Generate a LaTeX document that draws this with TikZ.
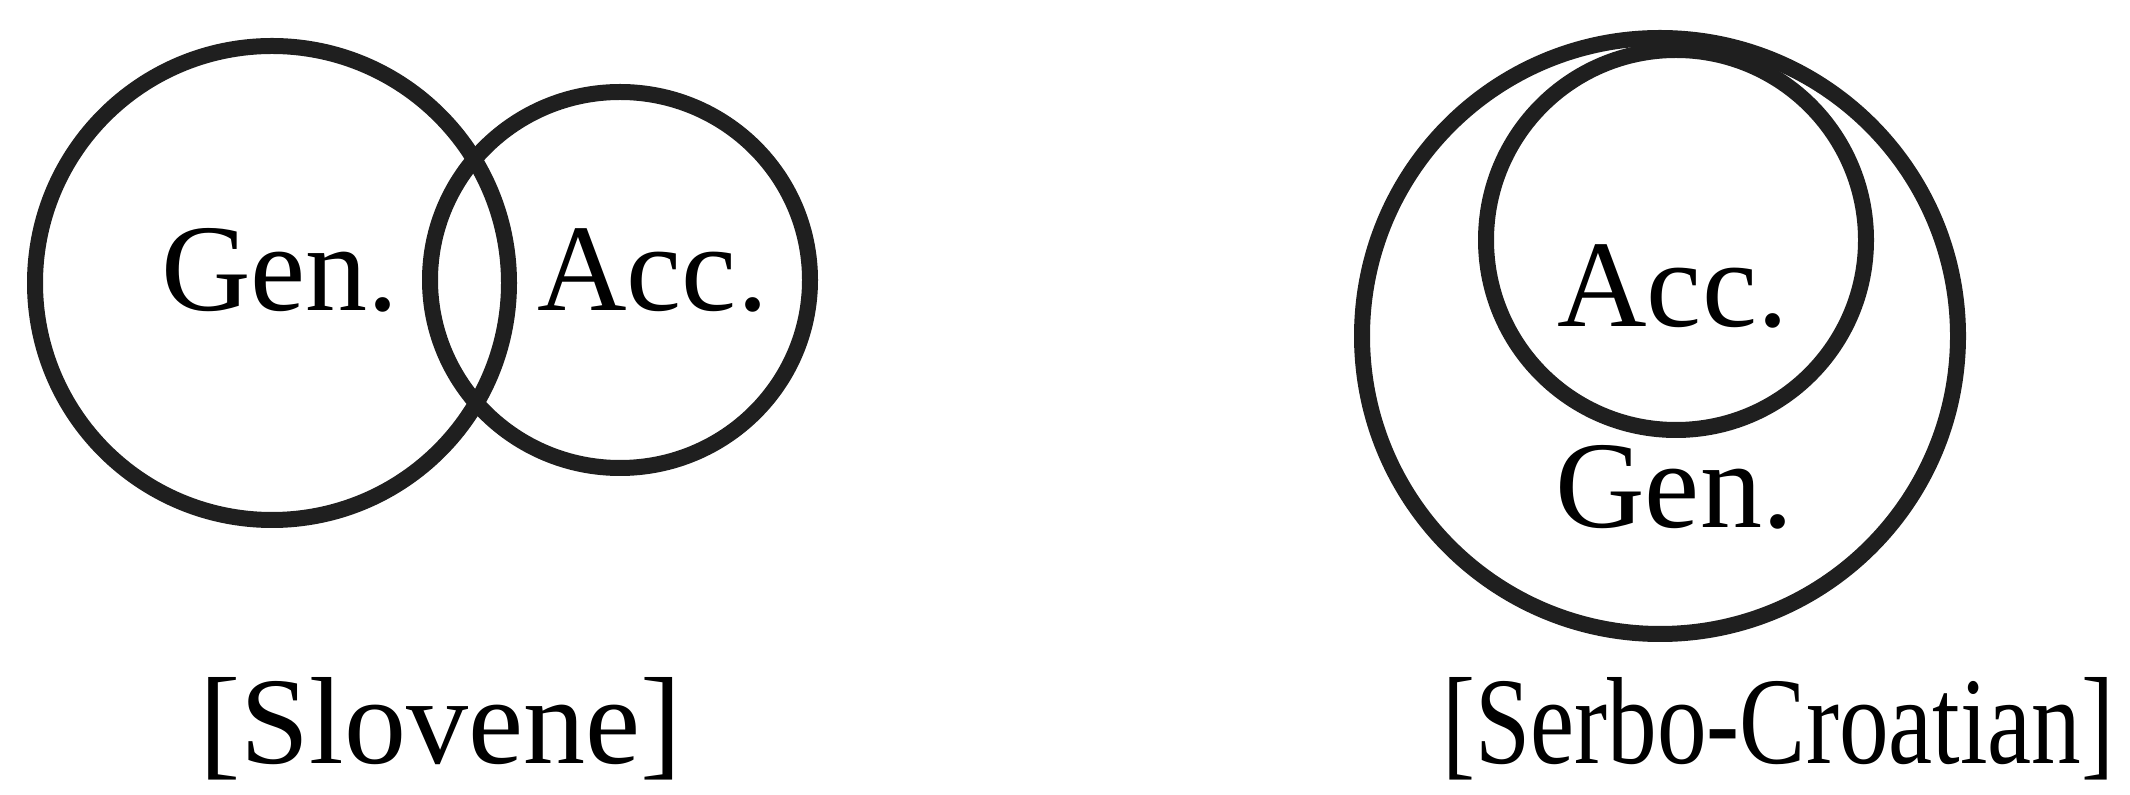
\documentclass[tikz,border=0pt]{standalone}
\usepackage{fontspec}
\setmainfont{Liberation Serif}
\begin{document}
\begin{tikzpicture}[x=0.5pt,y=-0.5pt,
  ring/.style={draw=black!88,line width=8pt},
  lbl/.style={anchor=base west,inner sep=0pt,font=\fontsize{62}{74}\selectfont}]
\useasboundingbox (0,0) rectangle (2130,795);
% left diagram
\draw[ring] (272,283) circle [radius=237];
\draw[ring] (620,280) ellipse [x radius=190,y radius=188];
\node[lbl] (genL) at (161,311) {Gen.};
\node[lbl] (accL) at (537,311) {Acc.};
\node[lbl] (slov) at (199,763) {[Slovene]};
% right diagram
\draw[ring] (1660,336) circle [radius=298];
\draw[ring] (1676,240) circle [radius=190];
\node[lbl] (accR) at (1557,327) {Acc.};
\node[lbl] (genR) at (1555,528) {Gen.};
\node[lbl] (serb) at (1442,763) {\scalebox{0.8}[1]{[Serbo-Croatian]}};
\end{tikzpicture}
\end{document}
